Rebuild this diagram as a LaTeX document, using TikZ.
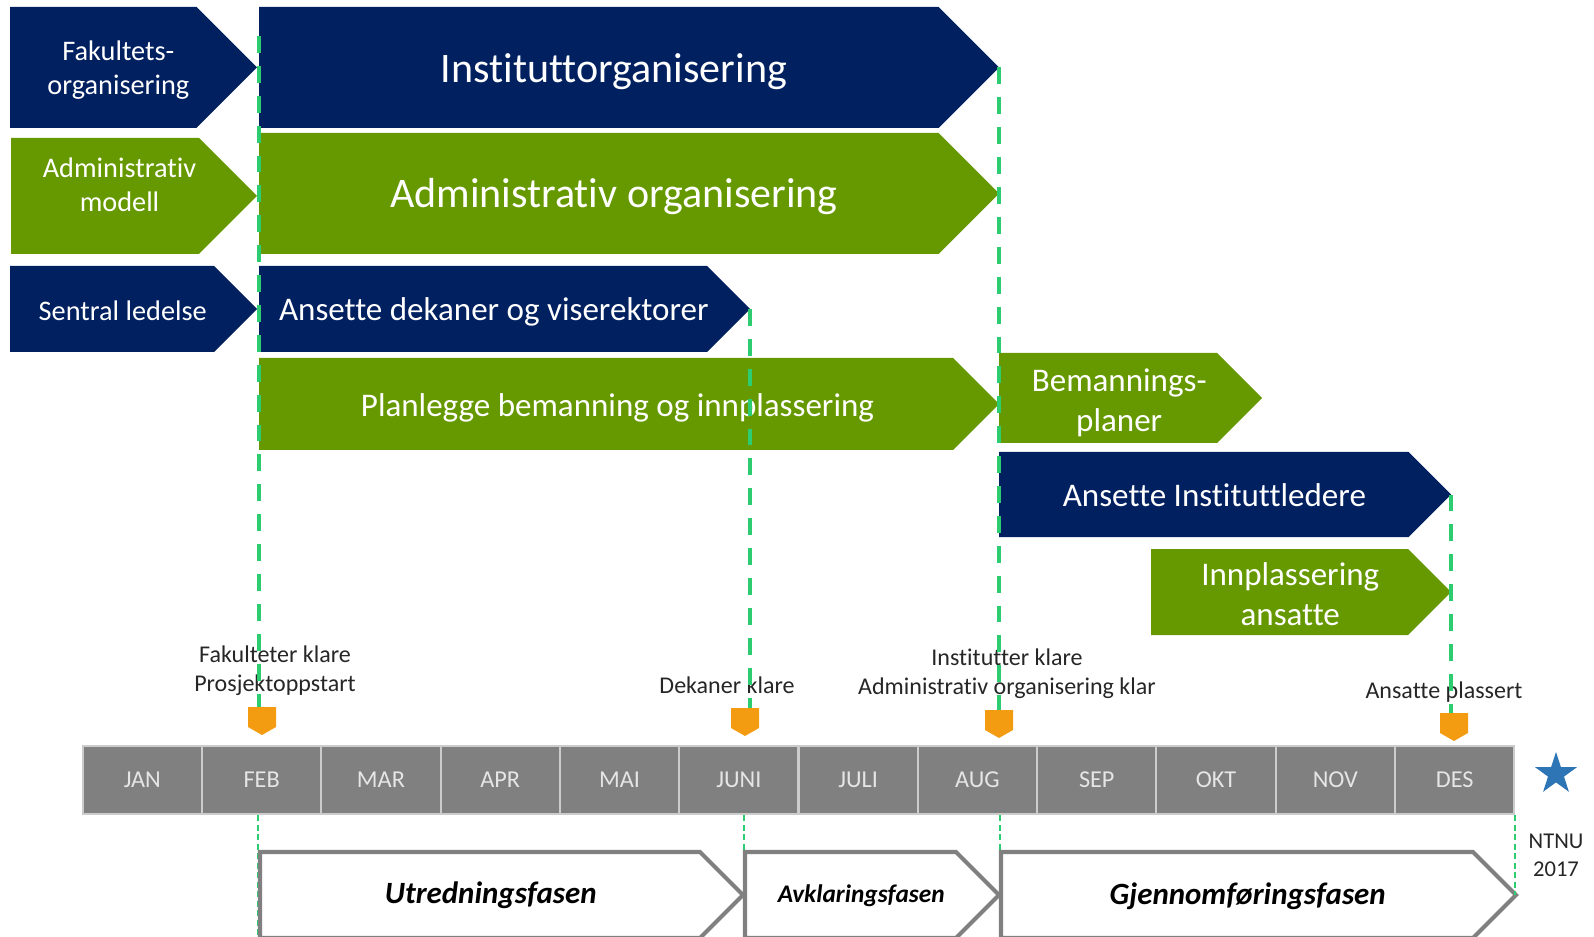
\documentclass[tikz,border=0pt]{standalone}
\usepackage{fontspec}
\setmainfont{Carlito}[Ligatures={NoCommon}]
\usetikzlibrary{calc,shapes.geometric}
\definecolor{ntnublue}{RGB}{0,32,96}
\definecolor{ntnugreen}{RGB}{102,153,0}
\definecolor{dashgreen}{RGB}{46,204,113}
\definecolor{markorange}{RGB}{243,156,18}
\definecolor{bargray}{RGB}{128,128,128}
\definecolor{starblue}{RGB}{46,117,182}
\def\pil[#1](#2)(#3:#4:#5:#6:#7)#8{%
	\pgfmathsetmacro\pilmid{(#5+#6)/2}%
	\pgfmathsetmacro\pilneck{#4-(#6-#5)/2}%
	\pgfmathsetmacro\piltxt{(#3+#4-(#6-#5)/4)/2}%
	\path[#1] (#3,#5) -- (\pilneck,#5) -- (#4,\pilmid) -- (\pilneck,#6) -- (#3,#6) -- cycle;
	\coordinate (#2-tip) at (#4,\pilmid);
	\coordinate (#2-nw) at (#3,#5);
	\coordinate (#2-sw) at (#3,#6);
	\node[#1,draw=none,fill=none,align=center] (#2) at (\piltxt,{\pilmid+#7}) {#8};}
\def\maal(#1)(#2,#3){%
	\fill[markorange] ({#2-14},#3) -- ({#2+14},#3) -- ({#2+14},{#3+20}) -- (#2,{#3+28}) -- ({#2-14},{#3+20}) -- cycle;
	\coordinate (#1) at (#2,#3);}
\tikzset{
	navyarrow/.style={fill=ntnublue,text=white},
	greenarrow/.style={fill=ntnugreen,text=white},
	phasearrow/.style={draw=bargray,line width=1.15pt,fill=white,text=black,font=\fontsize{8.8}{10.5}\selectfont\bfseries\itshape},
	bigtext/.style={font=\fontsize{11.95}{14.3}\selectfont},
	midtext/.style={font=\fontsize{9.39}{11.3}\selectfont},
	smalltext/.style={font=\fontsize{8.05}{9.67}\selectfont},
	mstext/.style={font=\fontsize{6.83}{8.25}\selectfont,text=black!85,align=center},
	monthcell/.style={fill=bargray,draw=black!20,line width=0.6pt,minimum width=1.193cm,minimum height=0.68cm,inner sep=0pt,text=white!90!black,font=\fontsize{6.9}{8}\selectfont},
	mlline/.style={draw=dashgreen,line width=1.1pt,dash pattern=on 4.8pt off 3.7pt},
	lowline/.style={draw=dashgreen,line width=0.55pt,dash pattern=on 1.7pt off 1pt}
}

\begin{document}
\begin{tikzpicture}[x=0.01cm,y=-0.01cm]
	%%%%% START %%%%%
	\useasboundingbox (0,0) rectangle (1594,937);
	
	\pil[navyarrow,smalltext](fak)(10:257:7:128:3){Fakultets-\\organisering}
	\pil[navyarrow,bigtext](inst)(259:999:7:128:4){Instituttorganisering}
	\pil[greenarrow,smalltext](admmod)(11:257:138:254:-11){Administrativ\\modell}
	\pil[greenarrow,bigtext](admorg)(259:999:133:254:3){Administrativ organisering}
	\pil[navyarrow,smalltext](sentral)(10:257:266:352:2){Sentral ledelse}
	\pil[navyarrow,midtext](dek)(259:750:266:352:3){Ansette dekaner og viserektorer}
	\pil[greenarrow,midtext](plan)(259:999:358:450:4){Planlegge bemanning og innplassering}
	\pil[greenarrow,midtext](bem)(999:1262:353:443:5){Bemannings-\\planer}
	\pil[navyarrow,midtext](ainst)(999:1451:452:537:1){Ansette Instituttledere}
	\pil[greenarrow,midtext](innpl)(1151:1451:549:635:2){Innplassering\\ansatte}
	
	\node[mstext] (fakklar) at (275,671) {Fakulteter klare\\Prosjektoppstart};
	\node[mstext] (dekklar) at (727,685) {Dekaner klare};
	\node[mstext] (instklar) at (1007,674) {Institutter klare\\Administrativ organisering klar};
	\node[mstext] (ansklar) at (1444,692) {Ansatte plassert};
	
	\maal(msfeb)(262,707)
	\maal(msjuni)(745,708)
	\maal(msaug)(999,710)
	\maal(msdes)(1454,713)
	
	\foreach \mnd [count=\i] in {JAN,FEB,MAR,APR,MAI,JUNI,JULI,AUG,SEP,OKT,NOV,DES}
		\node[monthcell] (m\i) at ({82.7+(\i-0.5)*119.3},780) {\mnd};
	
	\node[star,star points=5,star point ratio=2.618,fill=starblue,minimum size=0.44cm,inner sep=0pt] (stjerne) at (1556,774) {};
	\node[font=\fontsize{6.43}{7.97}\selectfont,text=black!85,align=center] (ntnu) at (1556,855) {NTNU\\2017};
	
	\coordinate (utrstart) at (258,852);
	\coordinate (avkstart) at (744,852);
	\coordinate (gjenstart) at (1000,852);
	\draw[lowline] (utrstart |- m1.south) -- (utrstart |- 0,937);
	\draw[lowline] (avkstart |- m1.south) -- (avkstart |- 0,937);
	\draw[lowline] (gjenstart |- m1.south) -- (gjenstart |- 0,937);
	
	\pil[phasearrow](utr)(260:743:852:938:0){Utredningsfasen}
	\pil[phasearrow,font=\fontsize{7.2}{8.6}\selectfont\bfseries\itshape](avk)(745:999:852:938:1){Avklaringsfasen}
	\pil[phasearrow](gjen)(1001:1516:852:938:1){Gjennomføringsfasen}
	\draw[lowline] (m12.south east) -- (m12.south east |- gjen-tip);
	
	\coordinate (start) at (259,36);
	\draw[mlline] (start) -- (start |- msfeb);
	\draw[mlline] (dek-tip) -- (dek-tip |- msjuni);
	\draw[mlline] (inst-tip) -- (inst-tip |- msaug);
	\draw[mlline] (ainst-tip) -- (ainst-tip |- msdes);
	
	%%%%% END %%%%%
\end{tikzpicture}
\end{document}
